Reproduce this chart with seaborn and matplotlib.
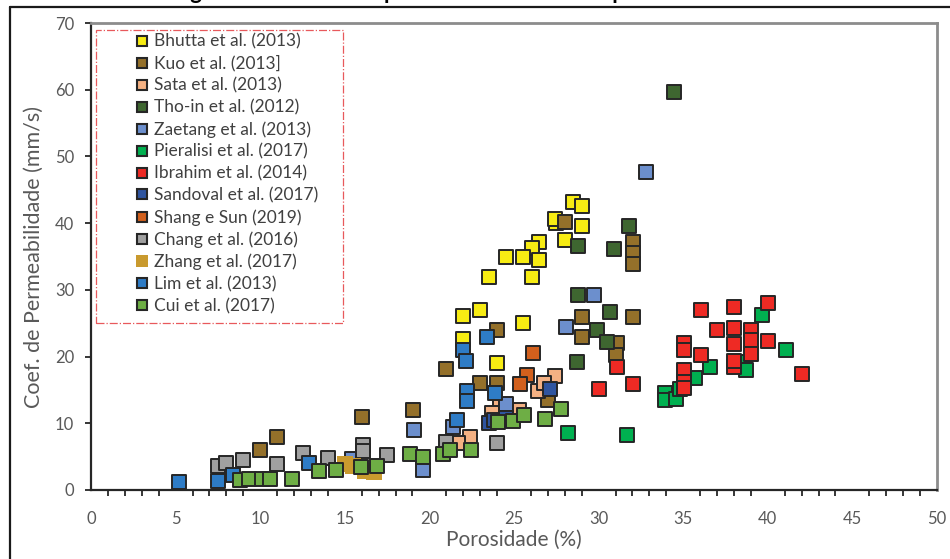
import matplotlib
matplotlib.use("Agg")
import matplotlib.pyplot as plt
import seaborn as sns
import pandas as pd
from matplotlib.lines import Line2D
from matplotlib.patches import Rectangle
from matplotlib.ticker import MultipleLocator

# ---------------- data ----------------
series_names = ["Bhutta et al. (2013)", "Kuo et al. (2013]", "Sata et al. (2013)",
                "Tho-in et al. (2012)", "Zaetang et al. (2013)", "Pieralisi et al. (2017)",
                "Ibrahim et al. (2014)", "Sandoval et al. (2017)", "Shang e Sun (2019)",
                "Chang et al. (2016)", "Zhang et al. (2017)", "Lim et al. (2013)",
                "Cui et al. (2017)"]
series_colors = ["#F7EC13", "#94702A", "#F4B183", "#3E6630", "#6C8FCD", "#00B050",
                 "#EE2A24", "#2F55A0", "#D2601D", "#A0A0A0", "#C99A2E", "#2E7CC6",
                 "#6EAE45"]

bhutta_x = [28.5, 29.0, 27.5, 27.45, 29.0, 28.0, 26.5, 26.05, 25.55, 24.55, 26.5, 26.05, 23.55, 23.0, 22.0, 25.55, 22.0, 24.0]
bhutta_y = [43.1, 42.6, 40.0, 40.6, 39.6, 37.4, 37.2, 36.2, 35.0, 35.0, 34.5, 32.0, 32.0, 27.0, 26.1, 25.0, 22.7, 19.1]

kuo_x = [28.0, 32.05, 32.05, 32.05, 29.0, 32.05, 24.0, 29.0, 31.1, 31.0, 21.0, 23.0, 24.0, 19.05, 16.0, 11.0, 10.0, 27.0]
kuo_y = [40.1, 37.1, 35.5, 33.9, 26.0, 26.0, 24.0, 23.0, 22.0, 20.2, 18.1, 16.1, 16.1, 12.0, 11.0, 8.0, 6.0, 13.5]

sata_x = [27.45, 26.4, 26.75, 24.2, 23.7, 25.3, 22.4, 21.7]
sata_y = [17.1, 14.8, 16.0, 12.7, 11.6, 12.0, 8.0, 7.1]

thoin_x = [34.45, 31.8, 28.8, 30.9, 28.8, 30.7, 29.9, 30.5, 28.7]
thoin_y = [59.7, 39.6, 36.5, 36.1, 29.2, 26.7, 24.0, 22.2, 19.2]

zaetang_x = [32.8, 29.75, 28.1, 24.5, 21.4, 19.1, 19.6, 15.4]
zaetang_y = [47.7, 29.2, 24.4, 12.9, 9.5, 9.0, 3.0, 4.6]

pieralisi_x = [28.2, 31.7, 33.9, 33.9, 34.6, 34.8, 35.7, 36.6, 38.65, 38.7, 39.65, 41.1]
pieralisi_y = [8.5, 8.3, 14.5, 13.5, 13.7, 15.2, 16.8, 18.5, 19.2, 18.0, 26.2, 21.0]

ibrahim_x = [31.1, 30.0, 32.05, 36.05, 38.0, 40.0, 37.0, 38.0, 38.0, 39.0, 39.0, 40.0, 39.0, 35.05, 35.05, 36.05, 35.05, 35.05, 35.05, 38.0, 38.0, 42.0]
ibrahim_y = [18.4, 15.1, 15.9, 27.0, 27.5, 28.1, 24.0, 24.3, 21.9, 24.0, 22.5, 22.4, 20.4, 22.0, 21.0, 20.2, 18.0, 16.2, 15.3, 18.4, 19.3, 17.4]

sandoval_x = [27.1, 23.5, 23.8, 24.5]
sandoval_y = [15.1, 10.0, 10.5, 10.8]

shang_x = [26.1, 25.75, 25.35]
shang_y = [20.6, 17.2, 15.9]

chang_x = [7.5, 8.0, 9.0, 11.0, 12.5, 14.0, 16.05, 16.05, 17.5, 21.0, 24.0]
chang_y = [3.6, 4.0, 4.5, 3.9, 5.5, 4.75, 6.75, 5.9, 5.3, 7.2, 7.1]

zhang_x = [15.0, 15.5, 16.2, 16.7]
zhang_y = [3.9, 3.6, 2.8, 2.7]

lim_x = [5.2, 7.5, 8.4, 12.9, 23.4, 22.0, 22.15, 22.25, 22.25, 23.85, 21.65]
lim_y = [1.25, 1.4, 2.25, 4.1, 22.9, 21.0, 19.3, 14.9, 13.3, 14.5, 10.5]

cui_x = [8.8, 9.35, 10.1, 10.6, 11.9, 13.45, 14.5, 15.95, 16.9, 18.85, 19.65, 20.8, 21.2, 22.45, 24.05, 24.95, 25.6, 26.85, 27.8]
cui_y = [1.5, 1.65, 1.65, 1.65, 1.65, 2.85, 3.0, 3.5, 3.65, 5.35, 5.0, 5.35, 6.0, 6.0, 10.25, 10.4, 11.25, 10.6, 12.1]

series_x = [bhutta_x, kuo_x, sata_x, thoin_x, zaetang_x, pieralisi_x, ibrahim_x,
            sandoval_x, shang_x, chang_x, zhang_x, lim_x, cui_x]
series_y = [bhutta_y, kuo_y, sata_y, thoin_y, zaetang_y, pieralisi_y, ibrahim_y,
            sandoval_y, shang_y, chang_y, zhang_y, lim_y, cui_y]

x_ticks = [0, 5, 10, 15, 20, 25, 30, 35, 40, 45, 50]
y_ticks = [0, 10, 20, 30, 40, 50, 60, 70]

# ---------------- figure ----------------
sns.set_style("white")
plt.rcParams["font.family"] = ["Lato", "DejaVu Sans"]

W, H = 950, 559
fig = plt.figure(figsize=(9.5, 5.59), dpi=100)
ax = fig.add_axes([91 / W, 1 - 490 / H, (937 - 91) / W, (490 - 23) / H])

EDGE = "#262626"
for name, col, xs, ys in zip(series_names, series_colors, series_x, series_y):
    df = pd.DataFrame({"x": xs, "y": ys})
    no_edge = name.startswith("Zhang")
    sns.scatterplot(data=df, x="x", y="y", ax=ax, marker="s",
                    s=(130 if no_edge else 88),
                    color=col, edgecolor=(col if no_edge else EDGE),
                    linewidth=(0 if no_edge else 1.4), zorder=3, legend=False,
                    clip_on=False)

ax.set_xlim(0, 50)
ax.set_ylim(0, 70)
ax.set_xticks(x_ticks)
ax.set_yticks(y_ticks)
ax.xaxis.set_minor_locator(MultipleLocator(1))
ax.tick_params(axis="x", which="major", direction="out", length=6, width=1.3,
               color=EDGE, labelsize=12, labelcolor="#595959", pad=9)
ax.tick_params(axis="x", which="minor", direction="out", length=4.5, width=1.3,
               color=EDGE, bottom=True)
ax.tick_params(axis="y", which="major", direction="out", length=4, width=1.3,
               color=EDGE, labelsize=12, labelcolor="#595959", pad=8, left=True)

for side in ["left", "bottom"]:
    ax.spines[side].set_color(EDGE)
    ax.spines[side].set_linewidth(1.6)
for side in ["top", "right"]:
    ax.spines[side].set_color("#8C8C8C")
    ax.spines[side].set_linewidth(2.0)

ax.set_xlabel("Porosidade (%)", fontsize=15, color="#595959", labelpad=2)
ax.set_ylabel("Coef. de Permeabilidade (mm/s)", fontsize=15.5, color="#595959", labelpad=8)

# legend
handles = []
for name, col in zip(series_names, series_colors):
    no_edge = name.startswith("Zhang")
    handles.append(Line2D([], [], linestyle="none", marker="s",
                          markersize=(9 if no_edge else 7.5),
                          markerfacecolor=col,
                          markeredgecolor=(col if no_edge else EDGE),
                          markeredgewidth=(0 if no_edge else 1.5)))
leg = ax.legend(handles, series_names, loc="upper left",
                bbox_to_anchor=(132 / W, 1 - 30 / H), bbox_transform=fig.transFigure,
                frameon=False, fontsize=12.5, handlelength=0.7, handletextpad=0.35,
                labelspacing=0.33, borderpad=0.2, borderaxespad=0)
for t in leg.get_texts():
    t.set_color("#404040")

fig.patches.append(Rectangle((96 / W, 1 - 323 / H), (343 - 96) / W, (323 - 30) / H,
                             transform=fig.transFigure, fill=False,
                             edgecolor="#E8595C", linewidth=0.9, linestyle="-.",
                             zorder=5))

# outer frame (left and top)
fig.add_artist(Line2D([10 / W, 10 / W], [0, 1 - 7 / H], transform=fig.transFigure,
                      color="#1A1A1A", linewidth=1.6))
fig.add_artist(Line2D([10 / W, 1], [1 - 7 / H, 1 - 7 / H], transform=fig.transFigure,
                      color="#1A1A1A", linewidth=1.6))

# clipped title (only descenders visible in the reference)
fig.text(172 / W, 1 + 1.0 / H, "Figura 7 – Gráfico da permeabilidade versus porosidade",
         fontsize=16, fontweight="bold", color="#000000", ha="left", va="baseline")

fig.savefig("out.png", dpi=100, facecolor="white")
